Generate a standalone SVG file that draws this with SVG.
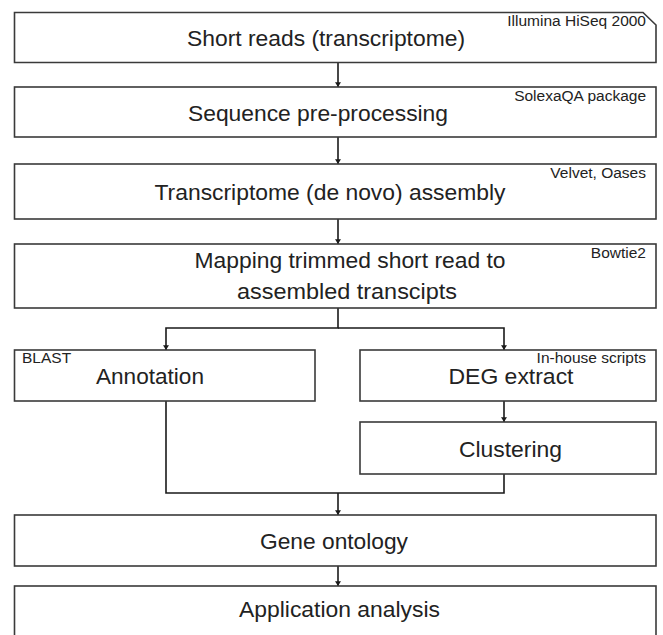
<svg xmlns="http://www.w3.org/2000/svg" width="663" height="635" viewBox="0 0 663 635">
<style>
.box{fill:#fff;stroke:#3a3a3a;stroke-width:1.6}
.t{font-family:"Liberation Sans",Arial,sans-serif;font-size:21.5px;fill:#222;text-anchor:middle}
.l{font-family:"Liberation Sans",Arial,sans-serif;font-size:15.5px;fill:#222;text-anchor:end}
.c{fill:none;stroke:#1a1a1a;stroke-width:1.6}
</style>
<defs>
<marker id="ah" viewBox="0 0 8 10" refX="8" refY="5" markerWidth="5" markerHeight="6" markerUnits="userSpaceOnUse" orient="auto">
<path d="M0,0 L8,5 L0,10 Z" fill="#1a1a1a"/>
</marker>
</defs>
<rect width="663" height="635" fill="#fff"/>
<g id="connectors">
<path class="c" d="M338,62.5 V87" marker-end="url(#ah)"/>
<path class="c" d="M338,137 V164" marker-end="url(#ah)"/>
<path class="c" d="M338,219 V244" marker-end="url(#ah)"/>
<path class="c" d="M338,308 V328 H166 V350" marker-end="url(#ah)"/>
<path class="c" d="M338,328 H504 V350" marker-end="url(#ah)"/>
<path class="c" d="M504,401 V422" marker-end="url(#ah)"/>
<path class="c" d="M166,401 V493 H504 V474"/>
<path class="c" d="M338,493 V515" marker-end="url(#ah)"/>
<path class="c" d="M338,566 V586" marker-end="url(#ah)"/>
</g>
<g id="short-reads">
<path class="box" d="M14.5,12.5 H643 L656,25 V62.5 H14.5 Z"/>
<text class="t" x="326" y="46" textLength="278" lengthAdjust="spacingAndGlyphs">Short reads (transcriptome)</text>
<text class="l" x="646" y="26">Illumina HiSeq 2000</text>
</g>
<g id="preprocessing">
<rect class="box" x="14.5" y="87" width="641.5" height="50"/>
<text class="t" x="318" y="121" textLength="260" lengthAdjust="spacingAndGlyphs">Sequence pre-processing</text>
<text class="l" x="646" y="101">SolexaQA package</text>
</g>
<g id="assembly">
<rect class="box" x="14.5" y="164" width="641.5" height="55"/>
<text class="t" x="330" y="200" textLength="351" lengthAdjust="spacingAndGlyphs">Transcriptome (de novo) assembly</text>
<text class="l" x="646" y="178">Velvet, Oases</text>
</g>
<g id="mapping">
<rect class="box" x="14.5" y="244" width="641.5" height="64"/>
<text class="t" x="350" y="268" textLength="311" lengthAdjust="spacingAndGlyphs">Mapping trimmed short read to</text>
<text class="t" x="347" y="299" textLength="220" lengthAdjust="spacingAndGlyphs">assembled transcipts</text>
<text class="l" x="646" y="258">Bowtie2</text>
</g>
<g id="annotation">
<rect class="box" x="14.5" y="350" width="300.5" height="51"/>
<text class="t" x="150" y="384" textLength="108" lengthAdjust="spacingAndGlyphs">Annotation</text>
<text class="l" x="22" y="363" style="text-anchor:start">BLAST</text>
</g>
<g id="deg-extract">
<rect class="box" x="360" y="350" width="296" height="51"/>
<text class="t" x="511" y="384" textLength="125" lengthAdjust="spacingAndGlyphs">DEG extract</text>
<text class="l" x="646" y="363">In-house scripts</text>
</g>
<g id="clustering">
<rect class="box" x="360" y="422" width="296" height="52"/>
<text class="t" x="510.5" y="457" textLength="103" lengthAdjust="spacingAndGlyphs">Clustering</text>
</g>
<g id="gene-ontology">
<rect class="box" x="14.5" y="515" width="641.5" height="51"/>
<text class="t" x="334" y="549" textLength="148" lengthAdjust="spacingAndGlyphs">Gene ontology</text>
</g>
<g id="application">
<rect class="box" x="14.5" y="586" width="641.5" height="60"/>
<text class="t" x="339.5" y="617" textLength="201" lengthAdjust="spacingAndGlyphs">Application analysis</text>
</g>
</svg>
